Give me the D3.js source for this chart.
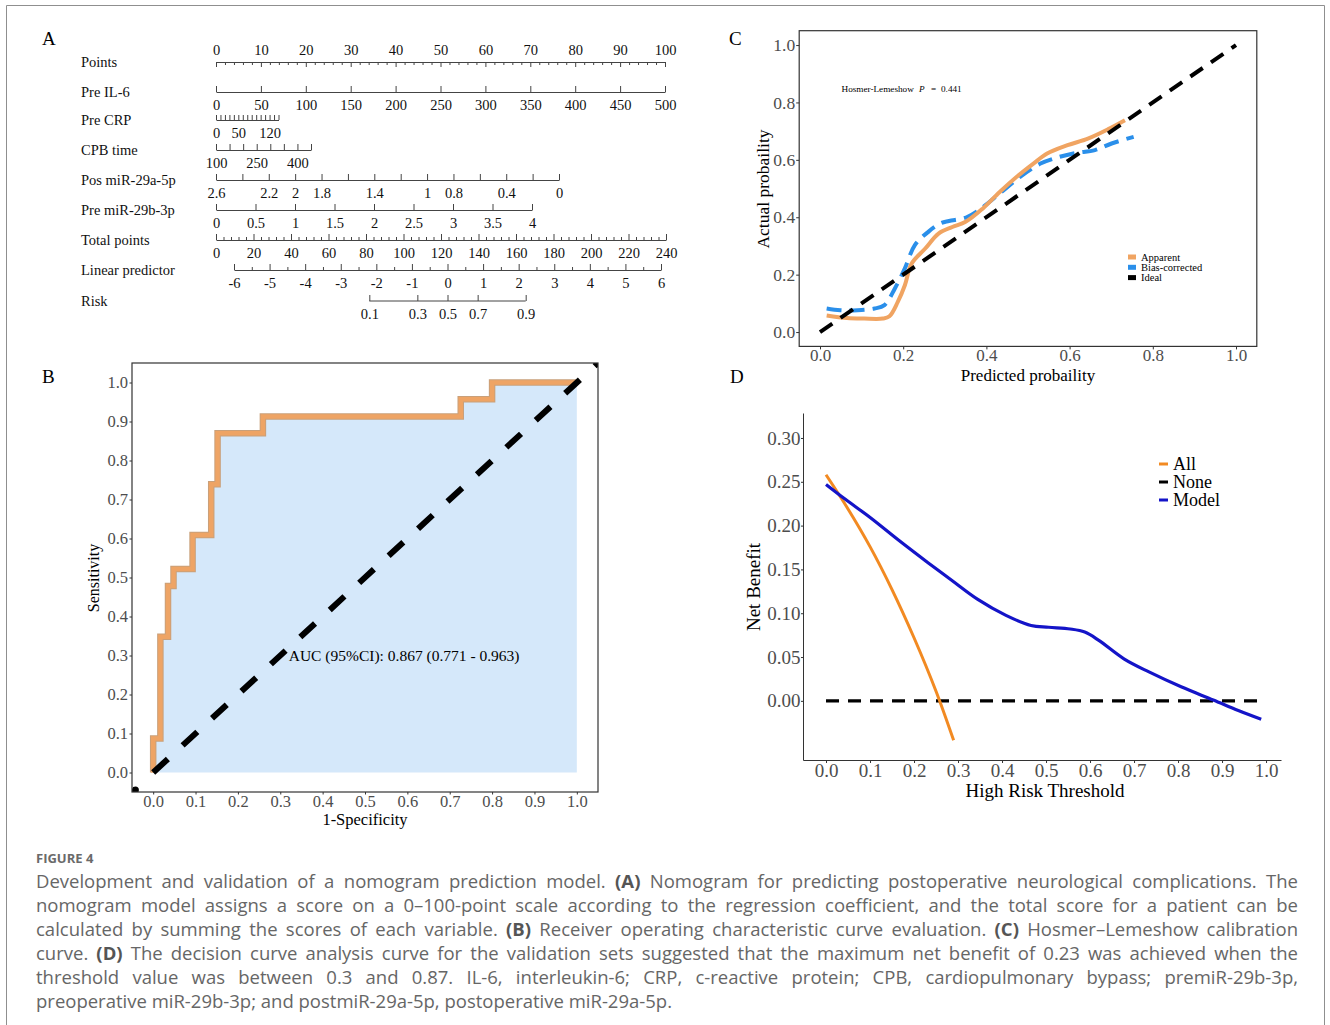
<!DOCTYPE html>
<html>
<head>
<meta charset="utf-8">
<script src="https://cdn.jsdelivr.net/npm/d3@7"></script>
<style>
body { margin: 0; background: #fff; }
#fig { position: relative; width: 1330px; height: 1025px; overflow: hidden; }
#fig svg { position: absolute; left: 0; top: 0; }
#cap { position: absolute; left: 36px; top: 848px; width: 1262px; font-family: "Open Sans", sans-serif; color: #666; }
#cap .title { font-size: 13px; font-weight: 700; color: #6a6a6a; height: 21px; line-height: 21px; }
#cap .ln { font-size: 16.5px; line-height: 24px; height: 24px; text-align: justify; text-align-last: justify; }
#cap .ln.last { text-align-last: left; }
#cap b { font-weight: 700; color: #555; }
</style>
</head>
<body>
<div id="fig">
  <div id="cap">
    <div class="title">FIGURE 4</div>
    <div class="ln">Development and validation of a nomogram prediction model. <b>(A)</b> Nomogram for predicting postoperative neurological complications. The</div>
    <div class="ln">nomogram model assigns a score on a 0–100-point scale according to the regression coefficient, and the total score for a patient can be</div>
    <div class="ln">calculated by summing the scores of each variable. <b>(B)</b> Receiver operating characteristic curve evaluation. <b>(C)</b> Hosmer–Lemeshow calibration</div>
    <div class="ln">curve. <b>(D)</b> The decision curve analysis curve for the validation sets suggested that the maximum net benefit of 0.23 was achieved when the</div>
    <div class="ln">threshold value was between 0.3 and 0.87. IL-6, interleukin-6; CRP, c-reactive protein; CPB, cardiopulmonary bypass; premiR-29b-3p,</div>
    <div class="ln last">preoperative miR-29b-3p; and postmiR-29a-5p, postoperative miR-29a-5p.</div>
  </div>
</div>
<script>
// ---------- data ----------
// A: nomogram
var rowNames = ["Points", "Pre IL-6", "Pre CRP", "CPB time", "Pos miR-29a-5p",
                "Pre miR-29b-3p", "Total points", "Linear predictor", "Risk"];
var pointsMajor = [0, 10, 20, 30, 40, 50, 60, 70, 80, 90, 100];
var il6Ticks = [0, 50, 100, 150, 200, 250, 300, 350, 400, 450, 500];
var crpTicks = [0, 10, 20, 30, 40, 50, 60, 70, 80, 90, 100, 110, 120, 130, 140];
var crpLabels = [0, 50, 120];
var cpbTicks = [100, 150, 200, 250, 300, 350, 400, 450];
var cpbLabels = [100, 250, 400];
var pos29aTicks = [2.6, 2.4, 2.2, 2, 1.8, 1.6, 1.4, 1.2, 1, 0.8, 0.6, 0.4, 0.2, 0];
var pos29aLabels = [2.6, 2.2, 2, 1.8, 1.4, 1, 0.8, 0.4, 0];
var pre29bTicks = [0, 0.5, 1, 1.5, 2, 2.5, 3, 3.5, 4];
var totalMajor = [0, 20, 40, 60, 80, 100, 120, 140, 160, 180, 200, 220, 240];
var lpMajor = [-6, -5, -4, -3, -2, -1, 0, 1, 2, 3, 4, 5, 6];
var riskTicks = [0.1, 0.3, 0.5, 0.7, 0.9];

// B: ROC
var rocFpr = [0, 0.017, 0.035, 0.048, 0.093, 0.137, 0.152, 0.259, 0.726, 0.800, 1.0];
var rocTpr = [0, 0.087, 0.348, 0.478, 0.522, 0.609, 0.739, 0.870, 0.913, 0.957, 1.0];
var aucText = "AUC (95%CI): 0.867 (0.771 - 0.963)";

// C: calibration
var appX = [0.016, 0.065, 0.106, 0.151, 0.167, 0.187, 0.204, 0.220, 0.253, 0.285, 0.318,
            0.350, 0.391, 0.432, 0.473, 0.513, 0.546, 0.595, 0.644, 0.693, 0.733];
var appY = [0.058, 0.049, 0.047, 0.047, 0.055, 0.105, 0.163, 0.238, 0.291, 0.343, 0.366,
            0.384, 0.430, 0.488, 0.541, 0.587, 0.622, 0.651, 0.674, 0.707, 0.738];
var bcX = [0.016, 0.049, 0.090, 0.131, 0.155, 0.180, 0.204, 0.228, 0.261, 0.290, 0.310,
           0.351, 0.383, 0.432, 0.481, 0.530, 0.563, 0.612, 0.661, 0.701, 0.754];
var bcY = [0.082, 0.076, 0.076, 0.082, 0.094, 0.152, 0.222, 0.303, 0.350, 0.379, 0.387,
           0.399, 0.426, 0.483, 0.541, 0.587, 0.605, 0.623, 0.634, 0.657, 0.680];
var calTicks = [0, 0.2, 0.4, 0.6, 0.8, 1.0];
var calLegend = ["Apparent", "Bias-corrected", "Ideal"];

// D: decision curve
var allX = [0, 0.05, 0.10, 0.15, 0.20, 0.25, 0.29];
var allY = [0.258, 0.219, 0.176, 0.127, 0.072, 0.011, -0.045];
var modelX = [0, 0.044, 0.101, 0.166, 0.231, 0.287, 0.344, 0.409, 0.466, 0.506, 0.555,
              0.588, 0.620, 0.677, 0.734, 0.807, 0.880, 0.937, 0.989];
var modelY = [0.247, 0.230, 0.209, 0.183, 0.158, 0.137, 0.116, 0.0975, 0.086, 0.084, 0.082,
              0.0785, 0.069, 0.048, 0.033, 0.016, 0.001, -0.011, -0.021];
var noneX = [0, 0.99];
var noneY = [0, 0];
var dcaYTicks = [0, 0.05, 0.10, 0.15, 0.20, 0.25, 0.30];
var dcaXTicks = [0, 0.1, 0.2, 0.3, 0.4, 0.5, 0.6, 0.7, 0.8, 0.9, 1.0];
var dcaLegend = ["All", "None", "Model"];

// ---------- caption: largest size that keeps every line on one row ----------
(function () {
    var lines = document.querySelectorAll("#cap .ln");
    var maxW = 0;
    lines.forEach(function (l) {
        l.style.display = "inline-block";
        l.style.whiteSpace = "nowrap";
        maxW = Math.max(maxW, l.getBoundingClientRect().width);
        l.style.display = "";
        l.style.whiteSpace = "";
    });
    var fs = Math.min(18.5, 16.5 * 1255 / maxW);
    lines.forEach(function (l) { l.style.fontSize = fs + "px"; });
})();

// ---------- drawing ----------
var serif = "'Liberation Serif', 'Times New Roman', serif";
var tickGrey = "#4d4d4d";

var svg = d3.select("#fig").insert("svg", "#cap")
    .attr("width", 1330)
    .attr("height", 1025);

// outer frame
svg.append("path")
    .attr("d", "M6.5,1030V5.5H1324.5V1030")
    .attr("fill", "none")
    .attr("stroke", "#8f8f8f");

function panelLetter(t, x, y) {
    svg.append("text").attr("x", x).attr("y", y)
        .attr("font-family", serif).attr("font-size", 19)
        .attr("dominant-baseline", "central")
        .text(t);
}
panelLetter("A", 42, 38);
panelLetter("B", 42, 376);
panelLetter("C", 729, 38);
panelLetter("D", 730, 376);

function styleAxis(g, size, colour) {
    g.selectAll("text").attr("font-family", serif).attr("font-size", size).attr("fill", colour);
    g.selectAll("line, path").attr("stroke", "#333");
}

// ===== A: nomogram =====
var nomo = svg.append("g");
var rowY = [62, 92, 120, 150, 180, 210, 240, 270, 301];

rowNames.forEach(function (n, i) {
    nomo.append("text").attr("x", 81).attr("y", rowY[i])
        .attr("dominant-baseline", "central")
        .attr("font-family", serif).attr("font-size", 14.5)
        .attr("fill", "#111")
        .text(n);
});

var pointsScale = d3.scaleLinear().domain([0, 100]).range([216, 665]);
var il6Scale = d3.scaleLinear().domain([0, 500]).range([216, 665]);
var crpScale = d3.scaleLinear().domain([0, 140]).range([216, 278.5]);
var cpbScale = d3.scaleLinear().domain([100, 450]).range([216, 311]);
var pos29aScale = d3.scaleLinear().domain([2.6, 0]).range([216, 559]);
var pre29bScale = d3.scaleLinear().domain([0, 4]).range([216, 532]);
var totalScale = d3.scaleLinear().domain([0, 240]).range([216, 666]);
var lpScale = d3.scaleLinear().domain([-6, 6]).range([234, 661]);

function nomoAxis(scale, y, major, labels, minor, fmt) {
    var g = nomo.append("g").attr("transform", "translate(0," + y + ")");
    g.call(d3.axisBottom(scale)
        .tickValues(major)
        .tickSizeInner(-6)
        .tickSizeOuter(0)
        .tickPadding(7.5)
        .tickFormat(function (d, i) {
            if (fmt) return fmt(d, i);
            return labels.indexOf(d) >= 0 ? String(d) : "";
        }));
    if (minor) {
        var m = nomo.append("g").attr("transform", "translate(0," + y + ")");
        m.call(d3.axisBottom(scale).tickValues(minor).tickSizeInner(-3).tickSizeOuter(0).tickFormat(""));
        m.select(".domain").remove();
        m.selectAll("line").attr("stroke", "#444");
    }
    g.selectAll("text").attr("font-family", serif).attr("font-size", 14.5).attr("fill", "#111");
    g.selectAll("line, path").attr("stroke", "#444");
    return g;
}

// Points: ticks pointing down, labels above
var pg = nomo.append("g").attr("transform", "translate(0," + rowY[0] + ")");
pg.call(d3.axisTop(pointsScale).tickValues(pointsMajor).tickSizeInner(-5).tickSizeOuter(0).tickPadding(7));
pg.selectAll("text").attr("font-family", serif).attr("font-size", 14.5).attr("fill", "#111");
pg.selectAll("line, path").attr("stroke", "#444");
var pm = nomo.append("g").attr("transform", "translate(0," + rowY[0] + ")");
pm.call(d3.axisTop(pointsScale)
    .tickValues(d3.range(0, 101, 2).filter(function (d) { return d % 10 !== 0; }))
    .tickSizeInner(-3).tickSizeOuter(0).tickFormat(""));
pm.select(".domain").remove();
pm.selectAll("line").attr("stroke", "#444");

nomoAxis(il6Scale, rowY[1], il6Ticks, il6Ticks);
var crpG = nomoAxis(crpScale, rowY[2], crpTicks, crpLabels);
crpG.selectAll(".tick line").attr("y2", -5);
nomoAxis(cpbScale, rowY[3], cpbTicks, cpbLabels);
nomoAxis(pos29aScale, rowY[4], pos29aTicks, pos29aLabels);
nomoAxis(pre29bScale, rowY[5], pre29bTicks, pre29bTicks);
nomoAxis(totalScale, rowY[6], totalMajor, totalMajor,
    d3.range(0, 241, 4).filter(function (d) { return d % 20 !== 0; }));
nomoAxis(lpScale, rowY[7], lpMajor, lpMajor,
    lpMajor.slice(0, -1).map(function (d) { return d + 0.5; }),
    function (d) { return String(d); });

// Risk, placed on the linear predictor scale through the logit
function logit(p) { return Math.log(p / (1 - p)); }
var riskG = nomoAxis(lpScale, rowY[8], riskTicks.map(logit), [], null,
    function (d, i) { return String(riskTicks[i]); });
riskG.select(".domain")
    .attr("d", "M" + lpScale(logit(riskTicks[0])) + ",0H" + lpScale(logit(riskTicks[riskTicks.length - 1])));

// ===== B: ROC =====
var bx = d3.scaleLinear().domain([-0.05, 1.05]).range([132, 598]);
var by = d3.scaleLinear().domain([-0.05, 1.05]).range([792, 363]);
var B = svg.append("g");
B.append("clipPath").attr("id", "clipB").append("rect")
    .attr("x", bx(-0.05)).attr("y", by(1.05))
    .attr("width", bx(1.05) - bx(-0.05)).attr("height", by(-0.05) - by(1.05));

var roc = rocFpr.map(function (d, i) { return [d, rocTpr[i]]; });
B.append("path").datum(roc)
    .attr("fill", "#d5e8fa")
    .attr("d", d3.area().curve(d3.curveStepBefore)
        .x(function (d) { return bx(d[0]); })
        .y0(by(0))
        .y1(function (d) { return by(d[1]); }));

var rocLine = d3.line().curve(d3.curveStepBefore)
    .x(function (d) { return bx(d[0]); })
    .y(function (d) { return by(d[1]); });
B.append("path").datum(roc)
    .attr("fill", "none")
    .attr("stroke", "#c9a07a")
    .attr("stroke-width", 6.5)
    .attr("d", rocLine);
B.append("path").datum(roc)
    .attr("fill", "none")
    .attr("stroke", "#eea465")
    .attr("stroke-width", 4.5)
    .attr("d", rocLine);

B.append("line")
    .attr("clip-path", "url(#clipB)")
    .attr("x1", bx(0)).attr("y1", by(0))
    .attr("x2", bx(1.05)).attr("y2", by(1.05))
    .attr("stroke", "#000").attr("stroke-width", 6)
    .attr("stroke-dasharray", "20,20");

B.append("circle")
    .attr("clip-path", "url(#clipB)")
    .attr("cx", bx(-0.042)).attr("cy", by(-0.045)).attr("r", 3.5)
    .attr("fill", "#000");

B.append("text").attr("x", bx(0.32)).attr("y", by(0.3))
    .attr("dominant-baseline", "central")
    .attr("font-family", serif).attr("font-size", 15.5)
    .text(aucText);

B.append("rect")
    .attr("x", bx(-0.05)).attr("y", by(1.05))
    .attr("width", bx(1.05) - bx(-0.05)).attr("height", by(-0.05) - by(1.05))
    .attr("fill", "none").attr("stroke", "#333").attr("stroke-width", 1.2);

var rocTicks = [0, 0.1, 0.2, 0.3, 0.4, 0.5, 0.6, 0.7, 0.8, 0.9, 1.0];
var bxa = B.append("g").attr("transform", "translate(0," + by(-0.05) + ")")
    .call(d3.axisBottom(bx).tickValues(rocTicks).tickFormat(d3.format(".1f")).tickSizeInner(2.5).tickSizeOuter(0).tickPadding(0.5));
bxa.select(".domain").remove();
styleAxis(bxa, 16.5, tickGrey);
var bya = B.append("g").attr("transform", "translate(" + bx(-0.05) + ",0)")
    .call(d3.axisLeft(by).tickValues(rocTicks).tickFormat(d3.format(".1f")).tickSizeInner(2.5).tickSizeOuter(0).tickPadding(1.5));
bya.select(".domain").remove();
styleAxis(bya, 16.5, tickGrey);

B.append("text").attr("x", 365).attr("y", 819)
    .attr("text-anchor", "middle").attr("dominant-baseline", "central")
    .attr("font-family", serif).attr("font-size", 16.5)
    .text("1-Specificity");
B.append("text")
    .attr("transform", "translate(93,578) rotate(-90)")
    .attr("text-anchor", "middle").attr("dominant-baseline", "central")
    .attr("font-family", serif).attr("font-size", 16)
    .text("Sensitivity");

// ===== C: calibration =====
var cx = d3.scaleLinear().domain([-0.05, 1.05]).range([799.2, 1256.8]);
var cy = d3.scaleLinear().domain([-0.05, 1.05]).range([346.4, 30.7]);
var C = svg.append("g");

C.append("rect")
    .attr("x", cx(-0.05)).attr("y", cy(1.05))
    .attr("width", cx(1.05) - cx(-0.05)).attr("height", cy(-0.05) - cy(1.05))
    .attr("fill", "none").attr("stroke", "#333").attr("stroke-width", 1.2);

var calLine = d3.line().curve(d3.curveCatmullRom)
    .x(function (d) { return cx(d[0]); })
    .y(function (d) { return cy(d[1]); });

C.append("path").datum(bcX.map(function (d, i) { return [d, bcY[i]]; }))
    .attr("fill", "none").attr("stroke", "#2a8fea").attr("stroke-width", 4)
    .attr("stroke-dasharray", "15,8")
    .attr("d", calLine);
C.append("path").datum(appX.map(function (d, i) { return [d, appY[i]]; }))
    .attr("fill", "none").attr("stroke", "#f0a462").attr("stroke-width", 4)
    .attr("d", calLine);
C.append("path").datum([[0, 0], [1, 1]])
    .attr("fill", "none").attr("stroke", "#000").attr("stroke-width", 4)
    .attr("stroke-dasharray", "15,10")
    .attr("d", calLine);

var hl = C.append("text").attr("x", 841.5).attr("y", 88.5)
    .attr("dominant-baseline", "central")
    .attr("font-family", serif).attr("font-size", 9.2);
hl.append("tspan").text("Hosmer-Lemeshow");
hl.append("tspan").attr("x", 919).attr("font-style", "italic").text("P");
hl.append("tspan").attr("x", 931).text("=");
hl.append("tspan").attr("x", 941).text("0.441");

var calColours = ["#f0a462", "#2a8fea", "#000"];
var calLegendY = d3.scaleOrdinal().domain(calLegend).range([257, 267.3, 277.6]);
calLegend.forEach(function (n, i) {
    C.append("line").attr("x1", 1128).attr("x2", 1136)
        .attr("y1", calLegendY(n)).attr("y2", calLegendY(n))
        .attr("stroke", calColours[i]).attr("stroke-width", 5);
    C.append("text").attr("x", 1141).attr("y", calLegendY(n))
        .attr("dominant-baseline", "central")
        .attr("font-family", serif).attr("font-size", 10.5)
        .text(n);
});

var cxa = C.append("g").attr("transform", "translate(0," + cy(-0.05) + ")")
    .call(d3.axisBottom(cx).tickValues(calTicks).tickFormat(d3.format(".1f")).tickSizeInner(3).tickSizeOuter(0).tickPadding(0));
cxa.select(".domain").remove();
styleAxis(cxa, 17, tickGrey);
var cya = C.append("g").attr("transform", "translate(" + cx(-0.05) + ",0)")
    .call(d3.axisLeft(cy).tickValues(calTicks).tickFormat(d3.format(".1f")).tickSizeInner(3).tickSizeOuter(0).tickPadding(1));
cya.select(".domain").remove();
styleAxis(cya, 17.5, tickGrey);

C.append("text").attr("x", 1028).attr("y", 375)
    .attr("text-anchor", "middle").attr("dominant-baseline", "central")
    .attr("font-family", serif).attr("font-size", 17)
    .text("Predicted probaility");
C.append("text")
    .attr("transform", "translate(763,189) rotate(-90)")
    .attr("text-anchor", "middle").attr("dominant-baseline", "central")
    .attr("font-family", serif).attr("font-size", 17.5)
    .text("Actual probaility");

// ===== D: decision curve =====
var dx = d3.scaleLinear().domain([-0.0523, 1.034]).range([803, 1281]);
var dy = d3.scaleLinear().domain([-0.0675, 0.3285]).range([760, 413]);
var D = svg.append("g");

var dcaLine = d3.line().curve(d3.curveCatmullRom)
    .x(function (d) { return dx(d[0]); })
    .y(function (d) { return dy(d[1]); });

D.append("path").datum(noneX.map(function (d, i) { return [d, noneY[i]]; }))
    .attr("fill", "none").attr("stroke", "#000").attr("stroke-width", 3.2)
    .attr("stroke-dasharray", "13,9")
    .attr("d", dcaLine);
D.append("path").datum(allX.map(function (d, i) { return [d, allY[i]]; }))
    .attr("fill", "none").attr("stroke", "#f28a22").attr("stroke-width", 3)
    .attr("d", dcaLine);
D.append("path").datum(modelX.map(function (d, i) { return [d, modelY[i]]; }))
    .attr("fill", "none").attr("stroke", "#1414c8").attr("stroke-width", 3.2)
    .attr("d", dcaLine);

var dxa = D.append("g").attr("transform", "translate(0,760)")
    .call(d3.axisBottom(dx).tickValues(dcaXTicks).tickFormat(d3.format(".1f")).tickSizeInner(3).tickSizeOuter(0).tickPadding(0.5));
styleAxis(dxa, 19, tickGrey);
var dya = D.append("g").attr("transform", "translate(803,0)")
    .call(d3.axisLeft(dy).tickValues(dcaYTicks).tickFormat(d3.format(".2f")).tickSizeInner(2).tickSizeOuter(0).tickPadding(0.5));
styleAxis(dya, 19, tickGrey);

var dcaColours = ["#f28a22", "#000", "#1414c8"];
var dcaLegendY = d3.scaleOrdinal().domain(dcaLegend).range([464, 482, 500]);
dcaLegend.forEach(function (n, i) {
    D.append("line").attr("x1", 1159).attr("x2", 1168)
        .attr("y1", dcaLegendY(n)).attr("y2", dcaLegendY(n))
        .attr("stroke", dcaColours[i]).attr("stroke-width", 3);
    D.append("text").attr("x", 1173).attr("y", dcaLegendY(n))
        .attr("dominant-baseline", "central")
        .attr("font-family", serif).attr("font-size", 18)
        .text(n);
});

D.append("text").attr("x", 1045).attr("y", 790)
    .attr("text-anchor", "middle").attr("dominant-baseline", "central")
    .attr("font-family", serif).attr("font-size", 19)
    .text("High Risk Threshold");
D.append("text")
    .attr("transform", "translate(753,587) rotate(-90)")
    .attr("text-anchor", "middle").attr("dominant-baseline", "central")
    .attr("font-family", serif).attr("font-size", 19)
    .text("Net Benefit");
</script>
</body>
</html>
